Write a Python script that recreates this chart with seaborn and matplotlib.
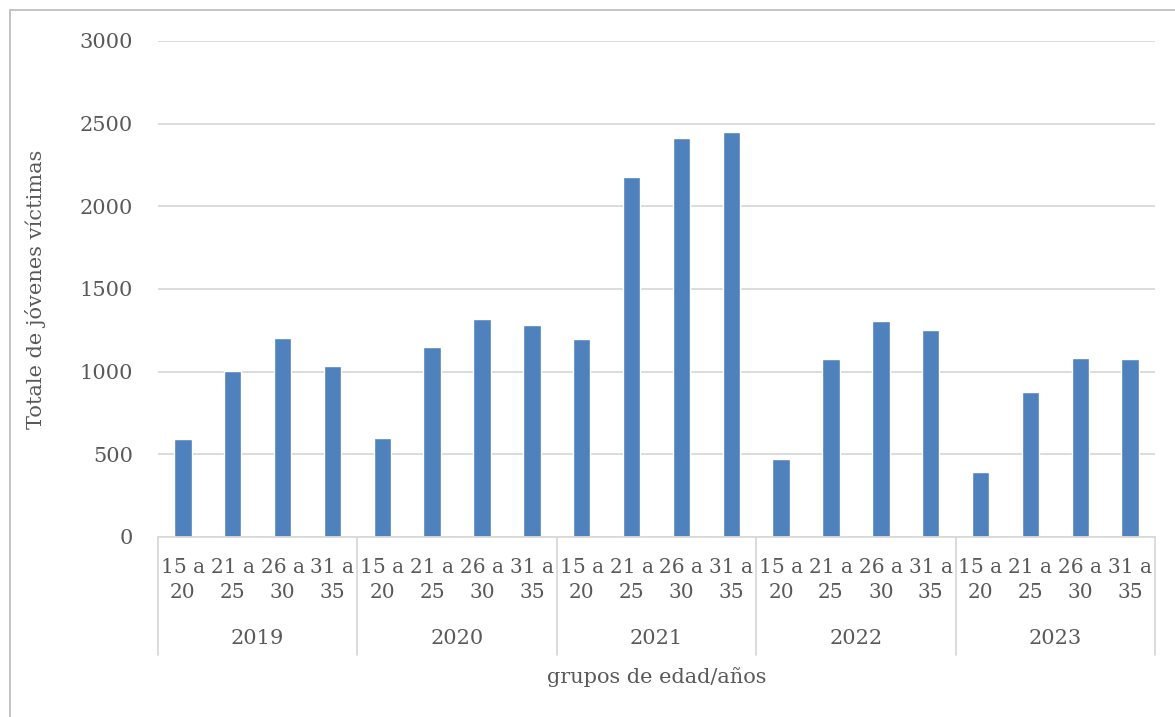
import numpy as np
import pandas as pd
import matplotlib
matplotlib.use("Agg")
import matplotlib.pyplot as plt
import seaborn as sns
from matplotlib.patches import Rectangle
from matplotlib.lines import Line2D

years = ["2019", "2020", "2021", "2022", "2023"]
grupos = ["15 a\n20", "21 a\n25", "26 a\n30", "31 a\n35"]
v2019 = [595, 1005, 1205, 1035]
v2020 = [600, 1150, 1320, 1285]
v2021 = [1195, 2180, 2415, 2450]
v2022 = [470, 1075, 1305, 1255]
v2023 = [395, 880, 1080, 1075]

rows = []
for y, vals in zip(years, [v2019, v2020, v2021, v2022, v2023]):
    for g, v in zip(grupos, vals):
        rows.append({"key": f"{y}|{g}", "year": y, "grupo": g, "total": v})
df = pd.DataFrame(rows)

sns.set_theme(style="white")
plt.rcParams["font.family"] = ["DejaVu Serif"]
txt = "#595959"
grid = "#d9d9d9"

W, H = 1175, 717
fig = plt.figure(figsize=(W / 100, H / 100), dpi=100)
ax = fig.add_axes([158 / W, 1 - 537 / H, (1155 - 158) / W, (537 - 41) / H])

sns.barplot(data=df, x="key", y="total", order=df["key"], color="#4f81bd",
            saturation=1, width=0.35, ax=ax)

ax.set_ylim(0, 3000)
ax.set_yticks(np.arange(0, 3001, 500))
ax.yaxis.grid(True, color=grid, lw=1.3)
ax.set_axisbelow(True)
for s in ["left", "top", "right"]:
    ax.spines[s].set_visible(False)
ax.spines["bottom"].set_color(grid)
ax.spines["bottom"].set_linewidth(1.3)
ax.tick_params(axis="y", length=0, pad=18, labelsize=15, labelcolor=txt)
ax.set_xticks(range(len(df)))
ax.set_xticklabels(df["grupo"], fontsize=14.5, color=txt, linespacing=1.4)
ax.tick_params(axis="x", length=0, pad=15)
ax.set_xlim(-0.5, len(df) - 0.5)
ax.set_xlabel("grupos de edad/años", fontsize=15, color=txt, labelpad=47)
ax.set_ylabel("Totale de jóvenes víctimas", fontsize=15, color=txt, labelpad=24)

# year labels and group separators below the axis
trans = ax.get_xaxis_transform()
for i, y in enumerate(years):
    ax.text(i * 4 + 1.5, -0.205, y, transform=trans, ha="center", va="center",
            fontsize=15, color=txt)
for i in range(len(years) + 1):
    ax.add_line(Line2D([i * 4 - 0.5] * 2, [0, -0.238], transform=trans,
                       color=grid, lw=1.3, clip_on=False))

# outer chart frame
fig.patches.append(Rectangle((10 / W, -0.01), 1.1, 1 - 10 / H + 0.01,
                             transform=fig.transFigure, fill=False,
                             edgecolor="#bfbfbf", lw=1.3))

fig.savefig("out.png", dpi=100)
